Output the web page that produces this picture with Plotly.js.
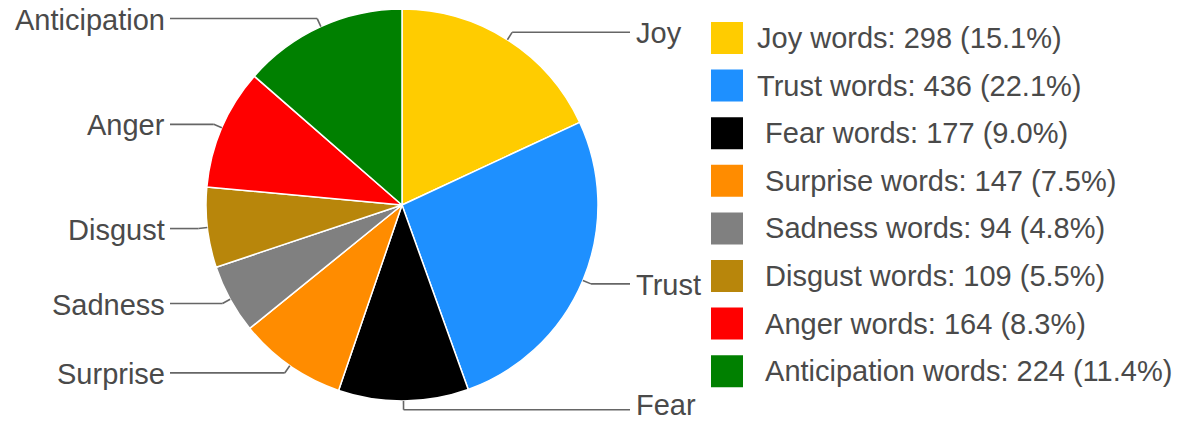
<!DOCTYPE html>
<html>
<head>
<meta charset="utf-8">
<script src="https://cdn.plot.ly/plotly-3.0.1.min.js"></script>
<style>
  html, body { margin: 0; padding: 0; background: #fff; }
  #chart { width: 1184px; height: 424px; }
</style>
</head>
<body>
<div id="chart"></div>
<script>
// ---- data ----
const emotions = ["Joy", "Trust", "Fear", "Surprise", "Sadness", "Disgust", "Anger", "Anticipation"];
const wordCounts = [298, 436, 177, 147, 94, 109, 164, 224];
const percentLabels = ["15.1", "22.1", "9.0", "7.5", "4.8", "5.5", "8.3", "11.4"];
const legendIndent = ["", "", "\u00a0", "\u00a0", "\u00a0", "\u00a0", "\u00a0", "\u00a0"];
const sliceColors = ["#FFCC00", "#1E90FF", "#000000", "#FF8C00", "#808080", "#B8860B", "#FF0000", "#008000"];

// ---- layout constants (pixels) ----
const W = 1184, H = 424;
const CX = 402, CY = 205, R = 196;
const ELBOW = 1.045;
const LEFT_LINE_END = 170, RIGHT_LINE_END = 630;
const LEFT_TEXT_X = 167, RIGHT_TEXT_X = 634;
const FONT = "Liberation Sans, Arial, sans-serif";
const FONT_SIZE = 29;
const TEXT_COLOR = "#4a4a4a";
const LINE_COLOR = "#666666";

const px = x => x / W;
const py = y => 1 - y / H;

const trace = {
  type: "pie",
  labels: emotions,
  values: wordCounts,
  marker: { colors: sliceColors, line: { color: "#ffffff", width: 1.5 } },
  sort: false,
  direction: "clockwise",
  rotation: 0,
  textinfo: "none",
  hoverinfo: "label+value",
  showlegend: false,
  domain: { x: [px(CX - R), px(CX + R)], y: [py(CY + R), py(CY - R)] }
};

const total = wordCounts.reduce((a, b) => a + b, 0);
const shapes = [];
const annotations = [];
let cum = 0;
wordCounts.forEach((v, i) => {
  const mid = (cum + v / 2) / total * 2 * Math.PI;
  cum += v;
  const s = Math.sin(mid), c = Math.cos(mid);
  const x0 = CX + R * s, y0 = CY - R * c;
  const x1 = CX + R * ELBOW * s, y1 = CY - R * ELBOW * c;
  const right = s >= 0;
  const x2 = right ? RIGHT_LINE_END : LEFT_LINE_END;
  const lineStyle = { color: LINE_COLOR, width: 1.6 };
  shapes.push({ type: "line", xref: "paper", yref: "paper", x0: px(x0), y0: py(y0), x1: px(x1), y1: py(y1), line: lineStyle });
  shapes.push({ type: "line", xref: "paper", yref: "paper", x0: px(x1), y0: py(y1), x1: px(x2), y1: py(y1), line: lineStyle });
  const ty = Math.max(18, Math.min(H - 19, y1 + 1));
  annotations.push({
    xref: "paper", yref: "paper",
    x: px(right ? RIGHT_TEXT_X : LEFT_TEXT_X), y: py(ty),
    xanchor: right ? "left" : "right", yanchor: "middle",
    text: emotions[i], showarrow: false,
    font: { family: FONT, size: FONT_SIZE, color: TEXT_COLOR }
  });
});

// custom legend
const LEG_X = 711, LEG_TOP = 22, LEG_SW = 32, LEG_STEP = 47.6, LEG_TEXT_X = 755;
emotions.forEach((name, i) => {
  const top = LEG_TOP + i * LEG_STEP;
  shapes.push({
    type: "rect", xref: "paper", yref: "paper",
    x0: px(LEG_X), x1: px(LEG_X + LEG_SW), y0: py(top + LEG_SW), y1: py(top),
    fillcolor: sliceColors[i], line: { width: 0 }
  });
  annotations.push({
    xref: "paper", yref: "paper",
    x: px(LEG_TEXT_X), y: py(top + LEG_SW / 2),
    xanchor: "left", yanchor: "middle", showarrow: false,
    text: legendIndent[i] + name + " words: " + wordCounts[i] + " (" + percentLabels[i] + "%)",
    font: { family: FONT, size: FONT_SIZE, color: TEXT_COLOR }
  });
});

const layout = {
  width: W, height: H,
  margin: { l: 0, r: 0, t: 0, b: 0 },
  paper_bgcolor: "#ffffff",
  showlegend: false,
  shapes: shapes,
  annotations: annotations
};

Plotly.newPlot("chart", [trace], layout, { displayModeBar: false, staticPlot: true });
</script>
</body>
</html>
